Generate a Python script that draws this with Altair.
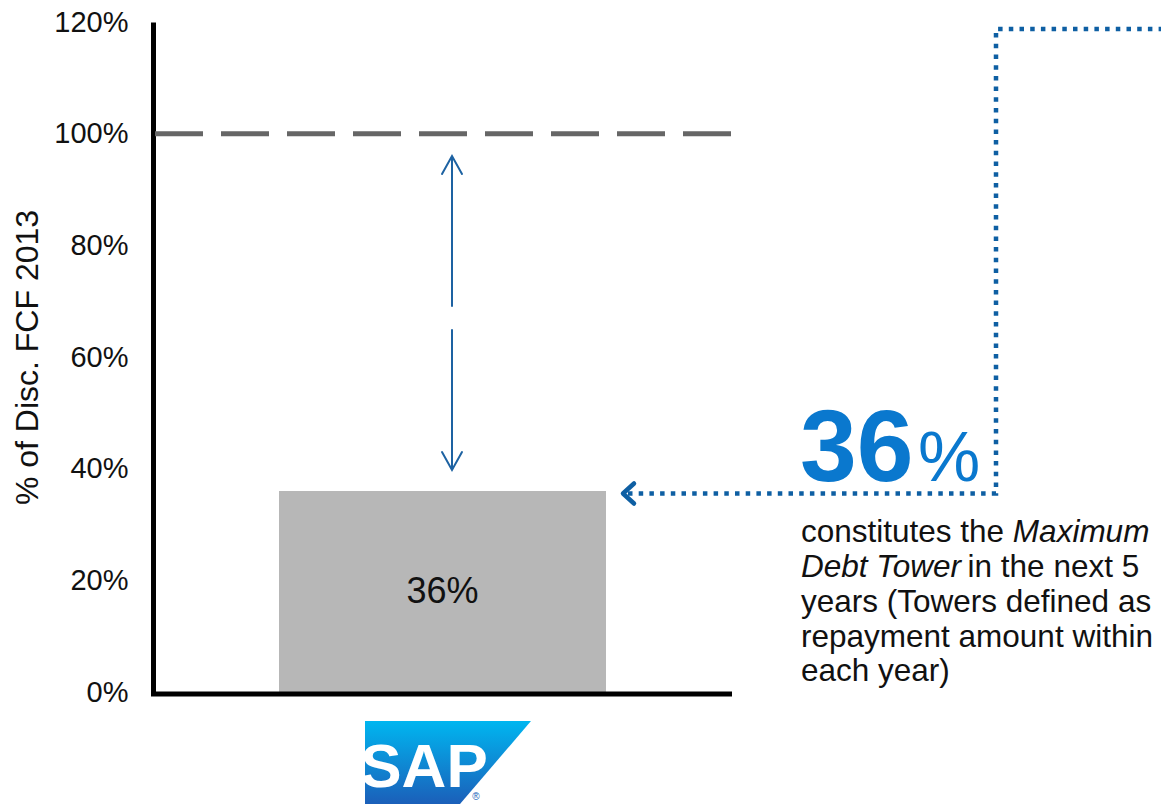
import altair as alt
import pandas as pd

# ---------------- data ----------------
categories = ["SAP"]
shares = [36]                 # % of discounted FCF 2013
benchmark = [100]             # reference level (dashed line)
y_ticks = [0, 20, 40, 60, 80, 100, 120]
y_title = "% of Disc. FCF 2013"
headline_number = "36"
headline_unit = "%"
note_lines = [
    [("constitutes the ", "normal"), ("Maximum", "italic")],
    [("Debt Tower", "italic"), (" in the next 5", "normal")],
    [("years (Towers defined as", "normal")],
    [("repayment amount within", "normal")],
    [("each year)", "normal")],
]
logo_text = "SAP"

# ---------------- layout ----------------
FONT = "Liberation Sans"
W, H = 1008, 670
X_MIN, X_MAX = 153, 1161          # x units of the canvas area
AX_RIGHT = 732
BAR_L, BAR_R = 279, 606
ARROW_X = 452
BLUE_DARK = "#0E5FA3"
BLUE_TXT = "#0A78CE"
PX_PER_PCT = H / 120.0


def pct(py):
    """convert a page pixel row to y-scale units"""
    return (692 - py) / PX_PER_PCT


xscale = alt.Scale(domain=[X_MIN, X_MAX], nice=False, zero=False)
yscale = alt.Scale(domain=[0, 120], nice=False, zero=True)
yaxis = alt.Axis(
    values=y_ticks, labelExpr="datum.value + '%'", title=y_title,
    grid=False, ticks=False, tickSize=0, labelPadding=25,
    labelFont=FONT, labelFontSize=29, labelColor="#111111",
    domain=True, domainColor="#000000", domainWidth=5,
    titleFont=FONT, titleFontSize=32, titleFontWeight="normal", titleColor="#111111",
    titleX=-126, titleY=335, titleAngle=270, titleBaseline="middle", titleAlign="center",
)


def X(f):
    return alt.X(f, type="quantitative", scale=xscale, axis=None)


def Y(f):
    return alt.Y(f, type="quantitative", scale=yscale, axis=yaxis)


# bar
bar_df = pd.DataFrame({"cat": categories, "share": shares})
bar_df["x0"] = BAR_L
bar_df["x1"] = BAR_R
bar_df["base"] = 0
bar_df["xc"] = (BAR_L + BAR_R) / 2
bar_df["ymid"] = bar_df["share"] / 2
bar_df["label"] = bar_df["share"].astype(str) + "%"

bar = alt.Chart(bar_df).mark_bar(color="#B7B7B7").encode(
    x=X("x0"), x2=alt.X2("x1"), y=Y("share"), y2=alt.Y2("base"))
bar_lbl = alt.Chart(bar_df).mark_text(font=FONT, fontSize=36, color="#111111",
                                      baseline="middle", align="center").encode(
    x=X("xc"), y=Y("ymid"), text="label:N")

# bottom axis line
axis_df = pd.DataFrame({"x0": [151], "x1": [AX_RIGHT], "y": [0]})
x_axis_line = alt.Chart(axis_df).mark_rule(color="#000000", strokeWidth=5, yOffset=2).encode(
    x=X("x0"), x2=alt.X2("x1"), y=Y("y"))

# dashed benchmark line
bench_df = pd.DataFrame({"x0": [155], "x1": [AX_RIGHT], "y": benchmark})
bench = alt.Chart(bench_df).mark_rule(color="#666666", strokeWidth=5, strokeDash=[48, 18]).encode(
    x=X("x0"), x2=alt.X2("x1"), y=Y("y"))

# vertical double arrow (with gap)
varrow_pts = [
    ("s1", ARROW_X, pct(157)), ("s1", ARROW_X, pct(306)),
    ("s2", ARROW_X, pct(330)), ("s2", ARROW_X, pct(469)),
    ("h1", ARROW_X - 10, pct(174)), ("h1", ARROW_X, pct(156)), ("h1", ARROW_X + 10, pct(174)),
    ("h2", ARROW_X - 10, pct(452)), ("h2", ARROW_X, pct(470)), ("h2", ARROW_X + 10, pct(452)),
]
va_df = pd.DataFrame(varrow_pts, columns=["seg", "x", "y"])
va_df["o"] = range(len(va_df))
varrow = alt.Chart(va_df).mark_line(color="#1D62A2", strokeWidth=2, strokeCap="round",
                                    strokeJoin="miter").encode(
    x=X("x"), y=Y("y"), detail="seg:N", order="o:Q")

# dotted connector
dot_pts = [(628, pct(493.5)), (996, pct(493.5)), (996, pct(29)), (1161, pct(29))]
dot_df = pd.DataFrame(dot_pts, columns=["x", "y"])
dot_df["o"] = range(len(dot_df))
dotted = alt.Chart(dot_df).mark_line(color=BLUE_DARK, strokeWidth=4.5, strokeDash=[4.5, 6.2],
                                     strokeCap="butt", strokeJoin="miter").encode(
    x=X("x"), y=Y("y"), order="o:Q")

chev_pts = [(634, pct(483.5)), (623, pct(493.5)), (634, pct(503.5))]
chev_df = pd.DataFrame(chev_pts, columns=["x", "y"])
chev_df["o"] = range(len(chev_df))
chevron = alt.Chart(chev_df).mark_line(color=BLUE_DARK, strokeWidth=4.5, strokeCap="round",
                                       strokeJoin="round").encode(
    x=X("x"), y=Y("y"), order="o:Q")

# headline number
head_df = pd.DataFrame({"t": [headline_number], "x": [800], "y": [pct(481)]})
head = alt.Chart(head_df).mark_text(font=FONT, fontSize=102, fontWeight="bold", color=BLUE_TXT,
                                    align="left", baseline="alphabetic").encode(
    x=X("x"), y=Y("y"), text="t:N")
unit_df = pd.DataFrame({"t": [headline_unit], "x": [918], "y": [pct(481)]})
unit = alt.Chart(unit_df).mark_text(font=FONT, fontSize=70, color=BLUE_TXT,
                                    align="left", baseline="alphabetic").encode(
    x=X("x"), y=Y("y"), text="t:N")

# note text (mixed roman / italic pieces)
NOTE_FS = 31.5
baselines = [542, 577, 612, 647, 681]
# Arial advance widths (em) for placing the following piece on the same line
piece_offsets = {"constitutes the ": 6.726, "Debt Tower": 5.168}
rows = []
for li, line in enumerate(note_lines):
    xpos = 801
    for txt, style in line:
        lead = txt.startswith(" ")
        rows.append({"t": txt.strip(), "style": style, "x": xpos + (0.12 * NOTE_FS if lead else 0),
                     "y": pct(baselines[li])})
        xpos += piece_offsets.get(txt, 0) * NOTE_FS
note_df = pd.DataFrame(rows)
note_n = alt.Chart(note_df[note_df["style"] == "normal"]).mark_text(
    font=FONT, fontSize=NOTE_FS, color="#111111", align="left", baseline="alphabetic").encode(
    x=X("x"), y=Y("y"), text="t:N")
note_i = alt.Chart(note_df[note_df["style"] == "italic"]).mark_text(
    font=FONT, fontSize=NOTE_FS, fontStyle="italic", color="#111111", align="left",
    baseline="alphabetic").encode(
    x=X("x"), y=Y("y"), text="t:N")

# SAP logo below the bar
logo_df = pd.DataFrame({"y": [pct(721), pct(804)], "xl": [365, 365], "xr": [531, 460]})
logo_bg = alt.Chart(logo_df).mark_area(
    orient="horizontal",
    color=alt.Gradient(gradient="linear",
                       stops=[alt.GradientStop(color="#00B6F0", offset=0),
                              alt.GradientStop(color="#1B5FB9", offset=1)],
                       x1=0, x2=0, y1=0, y2=1)).encode(
    y=Y("y"), x=X("xl"), x2=alt.X2("xr"))
logo_t_df = pd.DataFrame({"t": [logo_text], "x": [424], "y": [pct(787)]})
logo_t = alt.Chart(logo_t_df).mark_text(font=FONT, fontSize=62, fontWeight="bold",
                                        color="#FFFFFF", align="center", baseline="alphabetic").encode(
    x=X("x"), y=Y("y"), text="t:N")
reg_df = pd.DataFrame({"t": ["®"], "x": [476], "y": [pct(797)]})
reg = alt.Chart(reg_df).mark_text(font=FONT, fontSize=10, color="#1B5FB9",
                                  align="center", baseline="middle").encode(
    x=X("x"), y=Y("y"), text="t:N")

chart = alt.layer(
    bar, bar_lbl, bench, x_axis_line, varrow, dotted, chevron, head, unit,
    note_n, note_i, logo_bg, logo_t, reg
).properties(
    width=W, height=H,
    padding={"left": 153, "top": 22, "right": 0, "bottom": 112},
    autosize=alt.AutoSizeParams(type="none"),
    background="#FFFFFF",
).configure_view(stroke=None)

chart.save("out.html", embed_options={"renderer": "svg", "actions": False})
